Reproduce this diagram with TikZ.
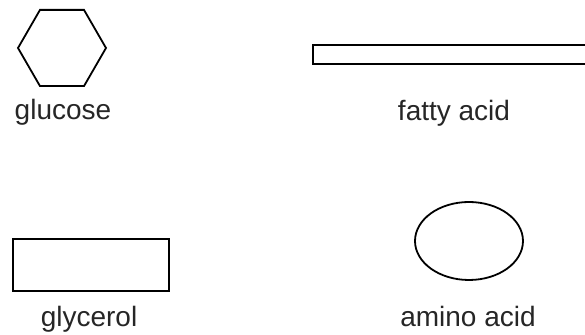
\documentclass[tikz,border=0pt]{standalone}
\usepackage{fontspec}
\setmainfont{Liberation Sans}
\usepackage{tikz}
\usetikzlibrary{positioning, shapes.geometric}

\begin{document}
\begin{tikzpicture}[x=0.5pt,y=-0.5pt,line width=0.9pt,font=\fontsize{14}{17}\selectfont]
\tikzstyle{every node}=[inner sep=0pt,outer sep=0pt]
\tikzstyle{molecule}=[draw=black,fill=white]
\tikzstyle{caption}=[anchor=base,text=black!85]
\useasboundingbox (0,0) rectangle (585,335);

\node[molecule,regular polygon,regular polygon sides=6,minimum size=44pt] (G) at (62,48) {};
\node[molecule,rectangle,minimum width=145pt,minimum height=9.5pt] (F) at (458,54.5) {};
\node[molecule,rectangle,minimum width=78pt,minimum height=26pt] (Y) at (91,265) {};
\node[molecule,ellipse,minimum width=54pt,minimum height=39pt] (A) at (469,241) {};

\node[caption] (g) at (63,120) {glucose};
\node[caption] (f) at (454,121) {fatty acid};
\node[caption] (y) at (89,327) {glycerol};
\node[caption] (a) at (468,327) {amino acid};
\end{tikzpicture}
\end{document}
